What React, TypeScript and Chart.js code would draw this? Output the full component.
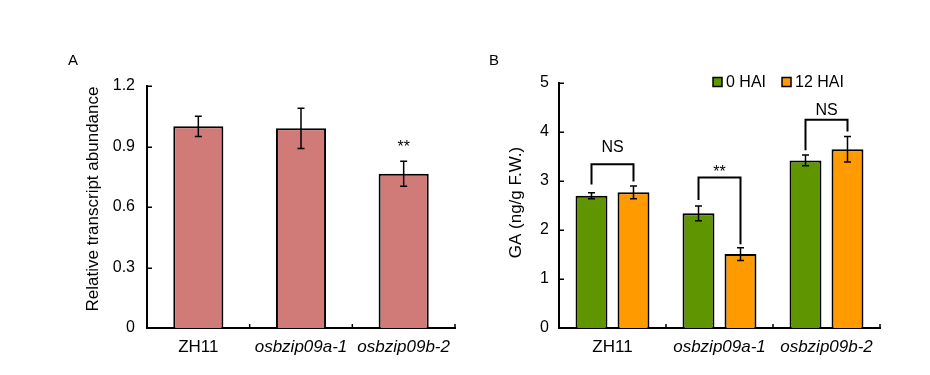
import React, { useEffect, useRef } from 'react';
import { Chart, registerables } from 'chart.js';

Chart.register(...registerables);

const FONT = "'Liberation Sans', Arial, sans-serif";

const categories = ['ZH11', 'osbzip09a-1', 'osbzip09b-2'];

// Panel A: relative transcript abundance
const abundance = [1.0, 0.99, 0.765];
const abundanceErr = [0.05, 0.1, 0.062];
const abundanceSig = ['', '', '**'];
const abundanceSigLevel = [0, 0, 0.875];
const ticksA = [0, 0.3, 0.6, 0.9, 1.2];
const tickLabelsA = ['0', '0.3', '0.6', '0.9', '1.2'];
const titleA = 'Relative transcript abundance';

// Panel B: GA content
const seriesB = ['0 HAI', '12 HAI'];
const ga0 = [2.7, 2.34, 3.42];
const ga0Err = [0.06, 0.15, 0.11];
const ga12 = [2.77, 1.51, 3.65];
const ga12Err = [0.13, 0.13, 0.26];
const ticksB = [0, 1, 2, 3, 4, 5];
const tickLabelsB = ['0', '1', '2', '3', '4', '5'];
const titleB = 'GA (ng/g F.W.)';
const bracketTop = [3.34, 3.07, 4.25];
const bracketLeftEnd = [2.93, 2.61, 3.63];
const bracketRightEnd = [2.99, 1.71, 4.01];
const bracketText = ['NS', '**', 'NS'];
const bracketTextLevel = [3.6, 3.08, 4.35];

const COLOR_A = '#D17B79';
const COLOR_GREEN = '#5F9600';
const COLOR_ORANGE = '#FF9A00';

const decorPlugin = {
  id: 'decor',
  afterDatasetsDraw(chart: any, _args: any, opts: any) {
    const ctx = chart.ctx;
    const x = chart.scales.x;
    const y = chart.scales.y;
    const area = chart.chartArea;
    ctx.save();
    // error bars
    const errs: number[][] = opts.errors || [];
    chart.data.datasets.forEach((ds: any, di: number) => {
      const meta = chart.getDatasetMeta(di);
      const e = errs[di];
      if (!e) return;
      ctx.strokeStyle = '#000';
      ctx.lineWidth = 1.5;
      meta.data.forEach((bar: any, i: number) => {
        const v = ds.data[i];
        const yt = y.getPixelForValue(v + e[i]);
        const yb = y.getPixelForValue(v - e[i]);
        const bx = bar.x;
        ctx.beginPath();
        ctx.moveTo(bx, yt);
        ctx.lineTo(bx, yb);
        ctx.moveTo(bx - 3.5, yt);
        ctx.lineTo(bx + 3.5, yt);
        ctx.moveTo(bx - 3.5, yb);
        ctx.lineTo(bx + 3.5, yb);
        ctx.stroke();
      });
    });
    // inward ticks
    ctx.strokeStyle = '#000';
    ctx.lineWidth = 1.5;
    ctx.beginPath();
    (opts.yTicks || []).forEach((t: number) => {
      const py = Math.round(y.getPixelForValue(t)) + 0.25;
      ctx.moveTo(area.left, py);
      ctx.lineTo(area.left + 5, py);
    });
    const n = chart.data.labels.length;
    const cw = (area.right - area.left) / n;
    for (let i = 1; i <= n; i++) {
      const px = x.getPixelForValue(i - 1) + cw / 2;
      ctx.moveTo(px, area.bottom);
      ctx.lineTo(px, area.bottom - 4);
    }
    ctx.stroke();
    ctx.restore();
  },
  afterDraw(chart: any, _args: any, opts: any) {
    const ctx = chart.ctx;
    const x = chart.scales.x;
    const y = chart.scales.y;
    const area = chart.chartArea;
    ctx.save();
    ctx.fillStyle = '#000';
    // panel letter
    if (opts.letter) {
      ctx.font = `15px ${FONT}`;
      ctx.textAlign = 'center';
      ctx.textBaseline = 'middle';
      ctx.fillText(opts.letter, opts.letterX, opts.letterY);
    }
    // rotated axis title
    if (opts.yTitle) {
      ctx.save();
      ctx.translate(opts.yTitleX, (area.top + area.bottom) / 2 + opts.yTitleShift);
      ctx.rotate(-Math.PI / 2);
      ctx.font = `17px ${FONT}`;
      ctx.textAlign = 'center';
      ctx.textBaseline = 'middle';
      ctx.fillText(opts.yTitle, 0, 0);
      ctx.restore();
    }
    // significance marks above single bars
    (opts.sig || []).forEach((s: string, i: number) => {
      if (!s) return;
      ctx.font = `16px ${FONT}`;
      ctx.textAlign = 'center';
      ctx.textBaseline = 'alphabetic';
      ctx.fillText(s, x.getPixelForValue(i), y.getPixelForValue(opts.sigLevel[i]));
    });
    // brackets
    if (opts.brackets) {
      const b = opts.brackets;
      const m0 = chart.getDatasetMeta(0);
      const m1 = chart.getDatasetMeta(1);
      ctx.strokeStyle = '#000';
      ctx.lineWidth = 2;
      b.top.forEach((top: number, i: number) => {
        const xl = m0.data[i].x;
        const xr = m1.data[i].x;
        const yt = y.getPixelForValue(top);
        ctx.beginPath();
        ctx.moveTo(xl, y.getPixelForValue(b.left[i]));
        ctx.lineTo(xl, yt);
        ctx.lineTo(xr, yt);
        ctx.lineTo(xr, y.getPixelForValue(b.right[i]));
        ctx.stroke();
        ctx.font = `16px ${FONT}`;
        ctx.textAlign = 'center';
        ctx.textBaseline = 'alphabetic';
        ctx.fillText(b.text[i], (xl + xr) / 2, y.getPixelForValue(b.textLevel[i]));
      });
    }
    // legend
    if (opts.legend) {
      let lx = area.left + opts.legendOffsetX;
      const cy = area.top - 1;
      ctx.font = `16px ${FONT}`;
      ctx.textAlign = 'left';
      ctx.textBaseline = 'middle';
      chart.data.datasets.forEach((ds: any) => {
        ctx.fillStyle = ds.backgroundColor;
        ctx.fillRect(lx, cy - 4.5, 9, 9);
        ctx.strokeStyle = '#000';
        ctx.lineWidth = 1.5;
        ctx.strokeRect(lx, cy - 4.5, 9, 9);
        ctx.fillStyle = '#000';
        ctx.fillText(ds.label, lx + 13, cy + 0.5);
        lx += 13 + ctx.measureText(ds.label).width + 16;
      });
    }
    ctx.restore();
  },
};

function makeOptions(p: {
  yMax: number;
  step: number;
  tickLabels: string[];
  ticks: number[];
  yWidth: number;
  padding: any;
  tickPad: number;
  catPct: number;
  barPct: number;
  decor: any;
}) {
  return {
    responsive: false,
    animation: false as const,
    layout: { padding: p.padding },
    datasets: { bar: { categoryPercentage: p.catPct, barPercentage: p.barPct } },
    plugins: {
      legend: { display: false },
      tooltip: { enabled: false },
      decor: p.decor,
    },
    scales: {
      x: {
        grid: { display: false, drawTicks: false },
        border: { color: '#000', width: 2 },
        ticks: {
          padding: 9,
          color: '#000',
          font: (c: any) => ({ family: FONT, size: 17, style: c.index === 0 ? 'normal' : 'italic' }),
          maxRotation: 0,
          autoSkip: false,
        },
        afterFit: (s: any) => {
          s.height = 47;
        },
      },
      y: {
        min: 0,
        max: p.yMax,
        grid: { display: false, drawTicks: false },
        border: { color: '#000', width: 2 },
        ticks: {
          stepSize: p.step,
          padding: p.tickPad,
          color: '#000',
          font: { family: FONT, size: 16 },
          callback: (v: any) => {
            const i = p.ticks.findIndex((t) => Math.abs(t - v) < 1e-6);
            return i >= 0 ? p.tickLabels[i] : '';
          },
        },
        afterFit: (s: any) => {
          s.width = p.yWidth;
        },
      },
    },
  };
}

export default function App() {
  const refA = useRef<HTMLCanvasElement>(null);
  const refB = useRef<HTMLCanvasElement>(null);

  useEffect(() => {
    const chartA = new Chart(refA.current as HTMLCanvasElement, {
      type: 'bar',
      data: {
        labels: categories,
        datasets: [
          {
            label: titleA,
            data: abundance,
            backgroundColor: COLOR_A,
            borderColor: '#000',
            borderWidth: 2,
          },
        ],
      },
      options: makeOptions({
        yMax: 1.2,
        step: 0.3,
        ticks: ticksA,
        tickLabels: tickLabelsA,
        yWidth: 147,
        padding: { left: 0, right: 10, top: 86, bottom: 0 },
        tickPad: 12,
        catPct: 0.8,
        barPct: 0.61,
        decor: {
          errors: [abundanceErr],
          yTicks: ticksA,
          letter: 'A',
          letterX: 73,
          letterY: 61,
          yTitle: titleA,
          yTitleX: 93,
          yTitleShift: -8,
          sig: abundanceSig,
          sigLevel: abundanceSigLevel,
        },
      }) as any,
      plugins: [decorPlugin],
    });

    const chartB = new Chart(refB.current as HTMLCanvasElement, {
      type: 'bar',
      data: {
        labels: categories,
        datasets: [
          {
            label: seriesB[0],
            data: ga0,
            backgroundColor: COLOR_GREEN,
            borderColor: '#000',
            borderWidth: 2,
          },
          {
            label: seriesB[1],
            data: ga12,
            backgroundColor: COLOR_ORANGE,
            borderColor: '#000',
            borderWidth: 2,
          },
        ],
      },
      options: makeOptions({
        yMax: 5,
        step: 1,
        ticks: ticksB,
        tickLabels: tickLabelsB,
        yWidth: 94,
        padding: { left: 0, right: 50, top: 83, bottom: 0 },
        tickPad: 10,
        catPct: 0.785,
        barPct: 0.76,
        decor: {
          errors: [ga0Err, ga12Err],
          yTicks: ticksB,
          letter: 'B',
          letterX: 29,
          letterY: 61,
          yTitle: titleB,
          yTitleX: 51,
          yTitleShift: -3,
          brackets: {
            top: bracketTop,
            left: bracketLeftEnd,
            right: bracketRightEnd,
            text: bracketText,
            textLevel: bracketTextLevel,
          },
          legend: true,
          legendOffsetX: 154,
        },
      }) as any,
      plugins: [decorPlugin],
    });

    return () => {
      chartA.destroy();
      chartB.destroy();
    };
  }, []);

  return (
    <div style={{ position: 'absolute', left: 0, top: 0, width: 930, height: 375, background: '#fff' }}>
      <canvas ref={refA} width={465} height={375} style={{ position: 'absolute', left: 0, top: 0 }} />
      <canvas ref={refB} width={465} height={375} style={{ position: 'absolute', left: 465, top: 0 }} />
    </div>
  );
}
